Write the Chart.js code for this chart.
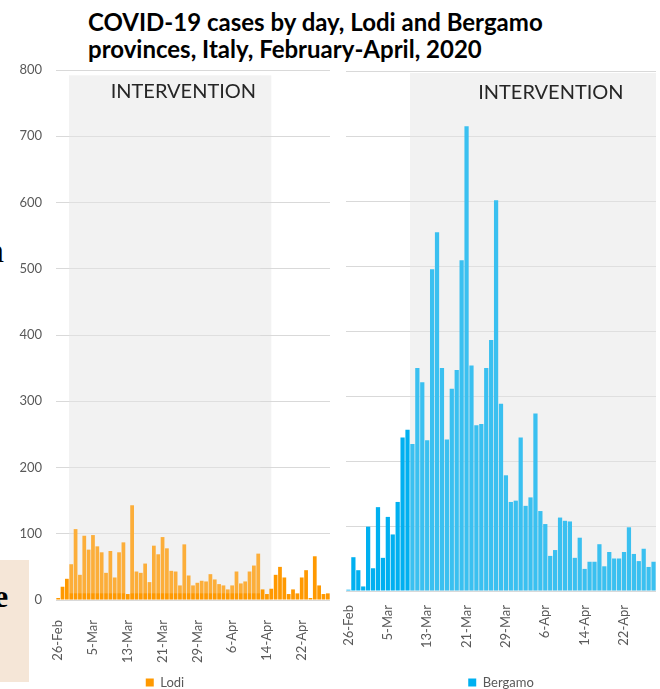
<!DOCTYPE html>
<html>
<head>
<meta charset="utf-8">
<script src="https://cdn.jsdelivr.net/npm/chart.js@4.4.1/dist/chart.umd.min.js"></script>
<style>
  html, body { margin: 0; padding: 0; background: #fff; overflow: hidden; }
  #wrap { position: relative; width: 660px; height: 689px; overflow: hidden; }
  .title { position: absolute; left: 88px; top: 8px; font: bold 24px Lato, sans-serif; line-height: 27px; color: #000; white-space: nowrap; }
  .beige { position: absolute; left: 0; top: 560px; width: 29px; height: 122px; background: #F5E6D7; }
  .edge-n { position: absolute; left: -13px; top: 232px; font: 34px "Liberation Serif", serif; color: #000; }
  .edge-e { position: absolute; left: -6px; top: 578px; font: bold 32px "Liberation Serif", serif; color: #000; }
  canvas { position: absolute; top: 0; }
  #lodi { left: 0; }
  #bergamo { left: 340px; }
</style>
</head>
<body>
<div id="wrap">
  <div class="beige"></div>
  <div class="edge-n">n</div>
  <div class="edge-e">e</div>
  <div class="title">COVID-19 cases by day, Lodi and Bergamo<br>provinces, Italy, February-April, 2020</div>
  <canvas id="lodi" width="340" height="699"></canvas>
  <canvas id="bergamo" width="320" height="699"></canvas>
</div>
<script>
const DAYS = [
  '26-Feb', '27-Feb', '28-Feb', '29-Feb',
  '1-Mar', '2-Mar', '3-Mar', '4-Mar', '5-Mar', '6-Mar', '7-Mar', '8-Mar', '9-Mar', '10-Mar',
  '11-Mar', '12-Mar', '13-Mar', '14-Mar', '15-Mar', '16-Mar', '17-Mar', '18-Mar', '19-Mar', '20-Mar',
  '21-Mar', '22-Mar', '23-Mar', '24-Mar', '25-Mar', '26-Mar', '27-Mar', '28-Mar', '29-Mar', '30-Mar', '31-Mar',
  '1-Apr', '2-Apr', '3-Apr', '4-Apr', '5-Apr', '6-Apr', '7-Apr', '8-Apr', '9-Apr', '10-Apr',
  '11-Apr', '12-Apr', '13-Apr', '14-Apr', '15-Apr', '16-Apr', '17-Apr', '18-Apr', '19-Apr', '20-Apr',
  '21-Apr', '22-Apr', '23-Apr', '24-Apr', '25-Apr', '26-Apr', '27-Apr', '28-Apr'
];
const TICK_LABELS = ['26-Feb', '5-Mar', '13-Mar', '21-Mar', '29-Mar', '6-Apr', '14-Apr', '22-Apr'];
const Y_TICKS = [0, 100, 200, 300, 400, 500, 600, 700, 800];

const LODI = [
  3, 20, 32, 54, 107, 38, 97, 76, 98, 81,
  72, 41, 74, 34, 72, 87, 9, 143, 43, 41,
  55, 27, 82, 69, 95, 78, 44, 43, 22, 84,
  37, 22, 26, 29, 28, 39, 31, 24, 22, 16,
  22, 43, 25, 28, 43, 52, 70, 16, 9, 17,
  38, 50, 34, 9, 16, 10, 34, 45, 3, 66,
  22, 9, 10
];
const BERGAMO = [
  2, 52, 32, 7, 99, 35, 129, 51, 114, 87,
  137, 236, 248, 226, 343, 321, 232, 495, 552, 343,
  233, 311, 340, 509, 715, 347, 255, 257, 343, 386,
  601, 288, 178, 137, 139, 236, 131, 144, 273, 123,
  103, 54, 63, 113, 108, 107, 51, 82, 34, 45,
  45, 72, 38, 60, 50, 50, 60, 98, 57, 46,
  65, 37, 45
];

// intervention periods (shaded box and the bars it covers)
const LODI_BOX = ['29-Feb', '15-Apr'];
const LODI_COVERED = ['29-Feb', '12-Apr'];
const BERGAMO_BOX = ['10-Mar', null];
const BERGAMO_COVERED = ['10-Mar', null];

const FONT = 'Lato, "Open Sans", sans-serif';
const TEXT_GREY = '#595959';

// grey box behind the bars, a thin veil of the same grey over them, and the label
const interventionPlugin = {
  id: 'intervention',
  beforeDraw(chart, args, o) {
    const { ctx, chartArea, scales: { x, y } } = chart;
    const left = x.getPixelForValue(DAYS.indexOf(o.box[0]) - 0.5);
    const right = o.box[1] ? x.getPixelForValue(DAYS.indexOf(o.box[1])) : chartArea.right;
    const top = y.getPixelForValue(o.top);
    ctx.save();
    ctx.fillStyle = '#F2F2F2';
    ctx.fillRect(left, top, right - left, chartArea.bottom - top);
    ctx.restore();
  },
  afterDatasetsDraw(chart, args, o) {
    const { ctx, chartArea, scales: { x, y } } = chart;
    const left = x.getPixelForValue(DAYS.indexOf(o.covered[0]) - 0.5);
    const right = o.covered[1] ? x.getPixelForValue(DAYS.indexOf(o.covered[1]) + 0.5) : chartArea.right;
    const top = y.getPixelForValue(o.top);
    const bottom = y.getPixelForValue(o.veilBottom);
    ctx.save();
    ctx.fillStyle = 'rgba(242,242,242,0.24)';
    ctx.fillRect(left, top, right - left, bottom - top);
    ctx.fillStyle = '#262626';
    ctx.font = '20px ' + FONT;
    ctx.textAlign = 'center';
    ctx.textBaseline = 'alphabetic';
    ctx.fillText('INTERVENTION', chartArea.left + o.labelX * chartArea.width, chartArea.top + 28);
    ctx.restore();
  }
};

function drawChart(id, label, values, color, s) {
  return new Chart(document.getElementById(id), {
    type: 'bar',
    data: {
      labels: DAYS,
      datasets: [{
        label: label,
        data: values,
        backgroundColor: color,
        borderWidth: 0,
        barPercentage: 0.86,
        categoryPercentage: 1
      }]
    },
    options: {
      responsive: false,
      animation: false,
      layout: { padding: s.padding },
      scales: {
        x: {
          grid: { display: false },
          border: { display: false },
          ticks: {
            autoSkip: false,
            maxRotation: 90,
            minRotation: 90,
            padding: s.xPad,
            color: TEXT_GREY,
            font: { family: FONT, size: 13 },
            callback: (v, i) => TICK_LABELS.includes(DAYS[i]) ? DAYS[i] : ''
          },
          afterFit: (scale) => {
            // rotated labels would otherwise push the plot in from the right
            scale.paddingLeft = 0;
            scale.paddingRight = 0;
            scale.height = s.xHeight;
          }
        },
        y: {
          min: 0,
          max: 800,
          afterBuildTicks: (scale) => { scale.ticks = Y_TICKS.map(v => ({ value: v })); },
          grid: { color: '#D9D9D9', drawTicks: false },
          border: { display: false },
          ticks: {
            display: s.yLabels,
            padding: 14,
            color: TEXT_GREY,
            font: { family: FONT, size: 13 }
          },
          afterFit: (scale) => { scale.width = s.yWidth; }
        }
      },
      plugins: {
        legend: {
          position: 'bottom',
          labels: {
            boxWidth: 8,
            boxHeight: 8,
            padding: 3,
            color: TEXT_GREY,
            font: { family: FONT, size: 13 }
          }
        },
        tooltip: { enabled: false },
        intervention: s.intervention
      }
    },
    plugins: [interventionPlugin]
  });
}

drawChart('lodi', 'Lodi', LODI, '#FF9900', {
  padding: { top: 70, right: 10, left: 0, bottom: 0 },
  yWidth: 56,
  yLabels: true,
  xHeight: 73,
  xPad: 12,
  intervention: { box: LODI_BOX, covered: LODI_COVERED, top: 792, veilBottom: 10, labelX: 0.465 }
});

drawChart('bergamo', 'Bergamo', BERGAMO, '#00B0F0', {
  padding: { top: 71, right: 4, left: 6, bottom: 0 },
  yWidth: 0,
  yLabels: false,
  xHeight: 82,
  xPad: 6,
  intervention: { box: BERGAMO_BOX, covered: BERGAMO_COVERED, top: 797, veilBottom: 0, labelX: 0.661 }
});
</script>
</body>
</html>
